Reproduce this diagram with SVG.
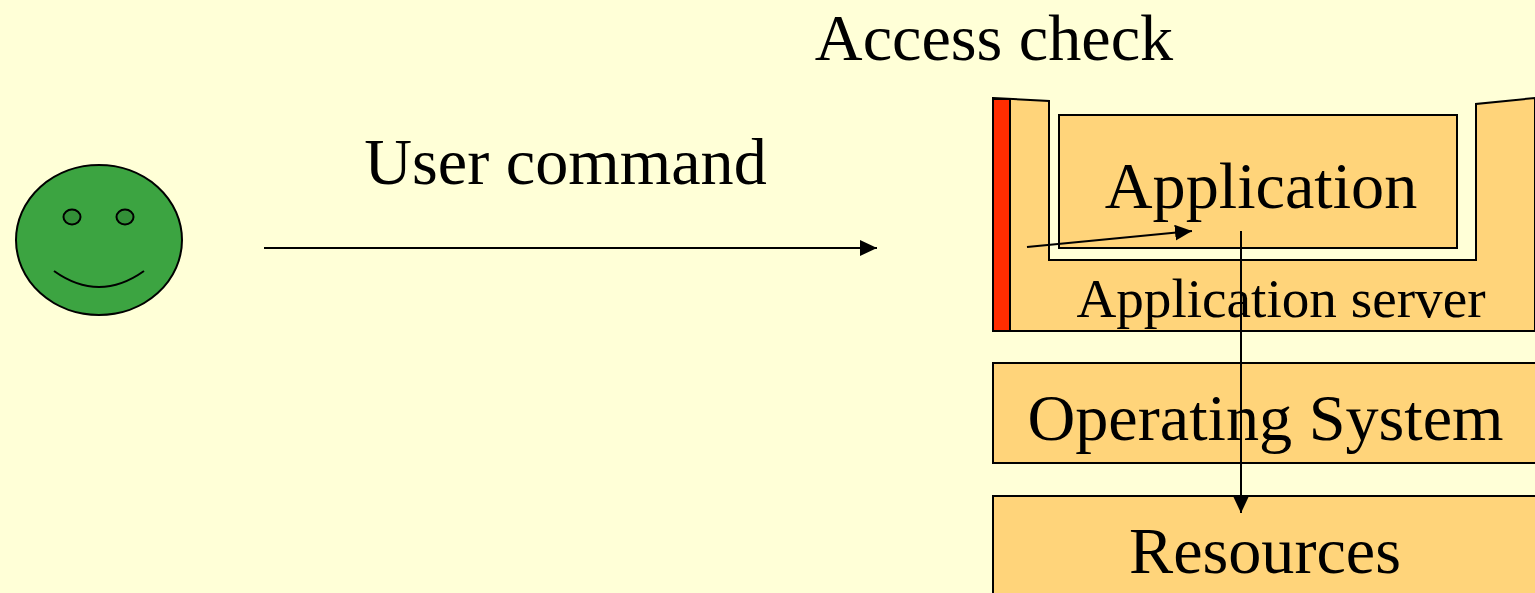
<svg xmlns="http://www.w3.org/2000/svg" width="1535" height="593" viewBox="0 0 1535 593">
<style>
.s{stroke:#000;stroke-width:2}
.o{fill:#ffd47a}
.l{fill:none}
text{font-family:"Liberation Serif","Times New Roman",serif;fill:#000;text-anchor:middle}
.b{font-size:66.200px}
</style>
<defs><marker id="a" markerWidth="17" markerHeight="16" refX="17" refY="8" orient="auto" markerUnits="userSpaceOnUse"><path d="M0 0L17 8L0 16Z"/></marker></defs>
<rect width="1535" height="593" fill="#ffffd7"/>
<g id="user">
<ellipse class="s" cx="99" cy="240" rx="83" ry="75" fill="#3ca441"/>
<ellipse class="s" cx="72" cy="217" rx="8.500" ry="7.500" fill="#339038"/>
<ellipse class="s" cx="125" cy="217" rx="8.500" ry="7.500" fill="#339038"/>
<path class="s l" d="M54 271Q99 303 144 271"/>
</g>
<g id="application-server">
<path class="s o" d="M993 98L1049 101V260H1476V104L1535 98V331H993Z"/>
<text x="1281" y="317" font-size="55.200">Application server</text>
</g>
<g id="access-bar"><rect class="s" x="993" y="99" width="17" height="232" fill="#ff2d00"/></g>
<g id="application">
<rect class="s o" x="1059" y="115" width="398" height="133"/>
<text class="b" x="1261" y="208">Application</text>
</g>
<g id="operating-system">
<rect class="s o" x="993" y="363" width="543" height="100"/>
<text class="b" x="1265.500" y="440">Operating System</text>
</g>
<g id="resources">
<rect class="s o" x="993" y="496" width="543" height="99"/>
<text class="b" x="1265" y="573">Resources</text>
</g>
<text class="b" x="994" y="60">Access check</text>
<text class="b" x="565.500" y="184">User command</text>
<g id="connectors">
<path class="s l" d="M264 248H877" marker-end="url(#a)"/>
<path class="s l" d="M1027 247L1192 231" marker-end="url(#a)"/>
<path class="s l" d="M1241 231V513" marker-end="url(#a)"/>
</g>
</svg>
